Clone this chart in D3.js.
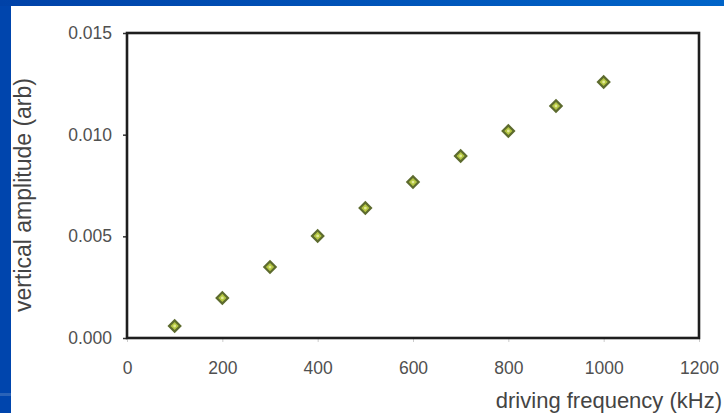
<!DOCTYPE html>
<html><head><meta charset="utf-8">
<script src="https://cdn.jsdelivr.net/npm/d3@7"></script>
<style>html,body{margin:0;padding:0;background:#0047ad;}svg{display:block;}</style>
</head><body>
<svg id="c" width="724" height="413"></svg>
<script>
const frequencies = [100, 200, 300, 400, 500, 600, 700, 800, 900, 1000];
const amplitudes = [0.00059, 0.00197, 0.00349, 0.00502, 0.00639, 0.00767, 0.00895, 0.01018, 0.01141, 0.01259];
const xTicks = [0, 200, 400, 600, 800, 1000, 1200];
const yTicks = [0.000, 0.005, 0.010, 0.015];
const xTitle = "driving frequency (kHz)";
const yTitle = "vertical amplitude (arb)";

const svg = d3.select("#c");
const defs = svg.append("defs");
const g1 = defs.append("linearGradient").attr("id","bg").attr("x1","0").attr("x2","1").attr("y1","0").attr("y2","0");
g1.append("stop").attr("offset","0").attr("stop-color","#0042a8");
g1.append("stop").attr("offset","1").attr("stop-color","#0064c8");
svg.append("rect").attr("width",724).attr("height",413).attr("fill","url(#bg)");
svg.append("rect").attr("x",0).attr("y",6).attr("width",11).attr("height",407).attr("fill","#0045ad");
svg.append("rect").attr("x",0).attr("y",393).attr("width",11).attr("height",3).attr("fill","#2a63b8");
svg.append("rect").attr("x",11).attr("y",6).attr("width",713).attr("height",407).attr("fill","#ffffff");

const L = 127, R = 699, T = 33, B = 338;
const x = d3.scaleLinear().domain([0,1200]).range([L,R]);
const y = d3.scaleLinear().domain([0,0.015]).range([B,T]);

const font = "Liberation Sans, Arial, sans-serif";

// y axis
const ya = svg.append("g").attr("transform",`translate(${L},0)`)
  .call(d3.axisLeft(y).tickValues(yTicks).tickFormat(d3.format(".3f")).tickSize(4).tickPadding(11));
ya.select(".domain").remove();
ya.selectAll("line").attr("stroke","#333").attr("stroke-width",1.5);
ya.selectAll("text").attr("font-family",font).attr("font-size",17.5).attr("fill","#505050");

// x axis
const xa = svg.append("g").attr("transform",`translate(0,${B})`)
  .call(d3.axisBottom(x).tickValues(xTicks).tickFormat(d3.format("d")).tickSize(4).tickPadding(20));
xa.select(".domain").remove();
xa.selectAll("line").attr("stroke","#ccc").attr("stroke-width",1);
xa.selectAll("text").attr("font-family",font).attr("font-size",17.5).attr("fill","#505050");

// frame
svg.append("rect").attr("x",L).attr("y",T).attr("width",R-L).attr("height",B-T)
  .attr("fill","none").attr("stroke","#1e1e1e").attr("stroke-width",2.6);

// markers
const sym = d3.symbol().type(d3.symbolSquare).size(64);
svg.append("g").selectAll("path").data(frequencies).join("path")
  .attr("d", sym)
  .attr("transform",(d,i)=>`translate(${x(d)},${y(amplitudes[i])}) rotate(45)`)
  .attr("fill","#b4c640").attr("stroke","#5d6b2e").attr("stroke-width",2.2);
svg.append("g").selectAll("circle").data(frequencies).join("circle")
  .attr("cx",d=>x(d)).attr("cy",(d,i)=>y(amplitudes[i])).attr("r",1.4).attr("fill","#e2ea9a");

// titles
svg.append("text").attr("x",722).attr("y",408).attr("text-anchor","end")
  .attr("font-family",font).attr("font-size",22).attr("fill","#444").text(xTitle);
svg.append("text").attr("transform","translate(31,195) rotate(-90)").attr("text-anchor","middle")
  .attr("font-family",font).attr("font-size",23).attr("fill","#444").text(yTitle);
</script>
</body></html>
